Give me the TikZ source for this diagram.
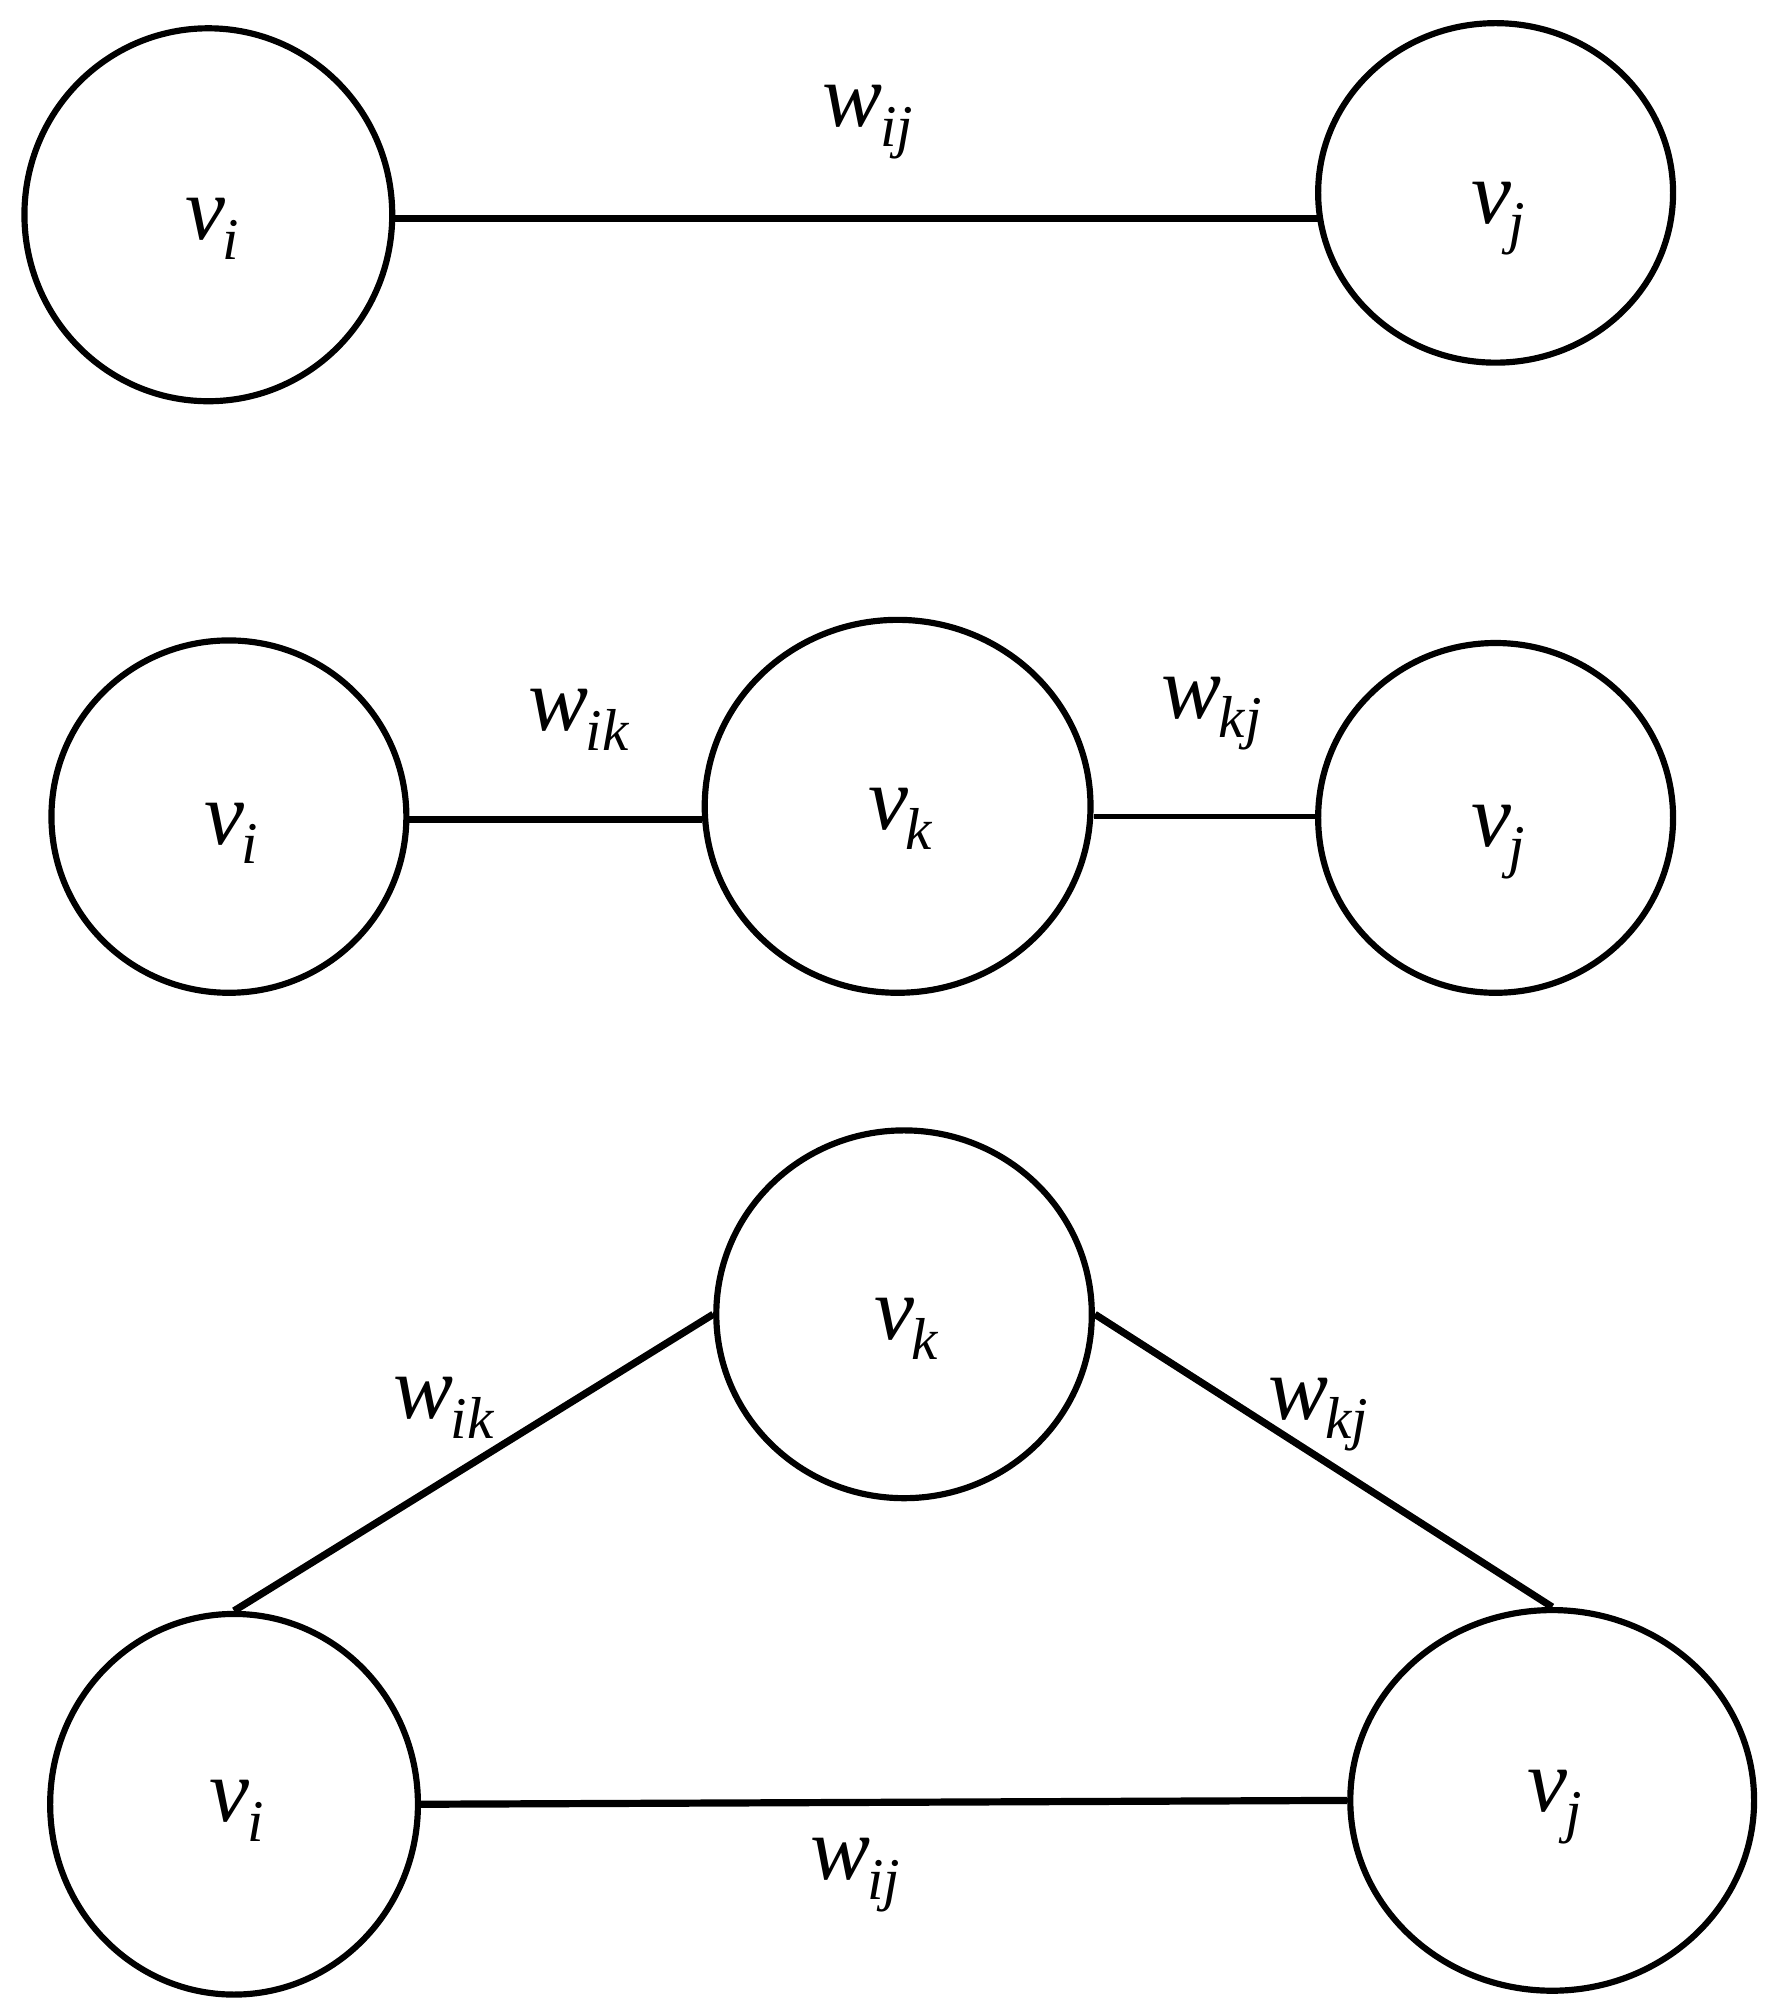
\documentclass[tikz,border=0pt]{standalone}
\usepackage{fontspec}
\setmainfont{Liberation Serif}
\usetikzlibrary{shapes.geometric}
\newcommand{\lab}[2]{\textit{#1}\kern-0.03em\raisebox{-0.22em}{\fontsize{23}{25}\selectfont\textit{#2}}}
\begin{document}
\begin{tikzpicture}[x=0.5pt,y=-0.5pt,
  nd/.style={draw,ellipse,line width=2.4pt,inner sep=0pt},
  ed/.style={line width=2.8pt},
  tx/.style={font=\fontsize{35}{38}\selectfont}]
\useasboundingbox (0,0) rectangle (1377,1563);
% row 1
\node[nd,minimum width=143*2*0.5pt,minimum height=145*2*0.5pt] (a1) at (162,167) {};
\node[tx] at (165,178) {\lab{v}{i}};
\node[nd,minimum width=138*2*0.5pt,minimum height=132*2*0.5pt] (b1) at (1163,150) {};
\node[tx] at (1165,170) {\lab{v}{j}};
\coordinate (a1e) at (305,170); \coordinate (b1w) at (1025,170);
\draw[ed] (a1e) -- (b1w);
\node[tx] (l1) at (675,95) {\lab{w}{ij}};
% row 2
\node[nd,minimum width=138*2*0.5pt,minimum height=137*2*0.5pt] (a2) at (178,635) {};
\node[tx] at (180,648) {\lab{v}{i}};
\node[nd,minimum width=150*2*0.5pt,minimum height=145*2*0.5pt] (k2) at (698,627) {};
\node[tx] at (700,637) {\lab{v}{k}};
\node[nd,minimum width=138*2*0.5pt,minimum height=136*2*0.5pt] (b2) at (1163,636) {};
\node[tx] at (1165,655) {\lab{v}{j}};
\draw[ed] (a2.east|-0,637) -- (k2.west|-0,637);
\draw[line width=2.2pt] (k2.east|-0,635) -- (b2.west|-0,635);
\node[tx] at (450,560) {\lab{w}{ik}};
\node[tx] at (942,555) {\lab{w}{kj}};
% row 3
\node[nd,minimum width=146*2*0.5pt,minimum height=143*2*0.5pt] (k3) at (703,1022) {};
\node[tx] at (705,1033) {\lab{v}{k}};
\node[nd,minimum width=143*2*0.5pt,minimum height=148*2*0.5pt] (a3) at (182,1403) {};
\node[tx] at (184,1408) {\lab{v}{i}};
\node[nd,minimum width=157*2*0.5pt,minimum height=148*2*0.5pt] (b3) at (1207,1400) {};
\node[tx] at (1209,1405) {\lab{v}{j}};
\draw[ed] (a3.north) -- (k3.west);
\draw[ed] (k3.east) -- (b3.north);
\draw[ed] (a3.east) -- (b3.west);
\node[tx] at (345,1095) {\lab{w}{ik}};
\node[tx] at (1025,1100) {\lab{w}{kj}};
\node[tx] at (665,1458) {\lab{w}{ij}};
\end{tikzpicture}
\end{document}
